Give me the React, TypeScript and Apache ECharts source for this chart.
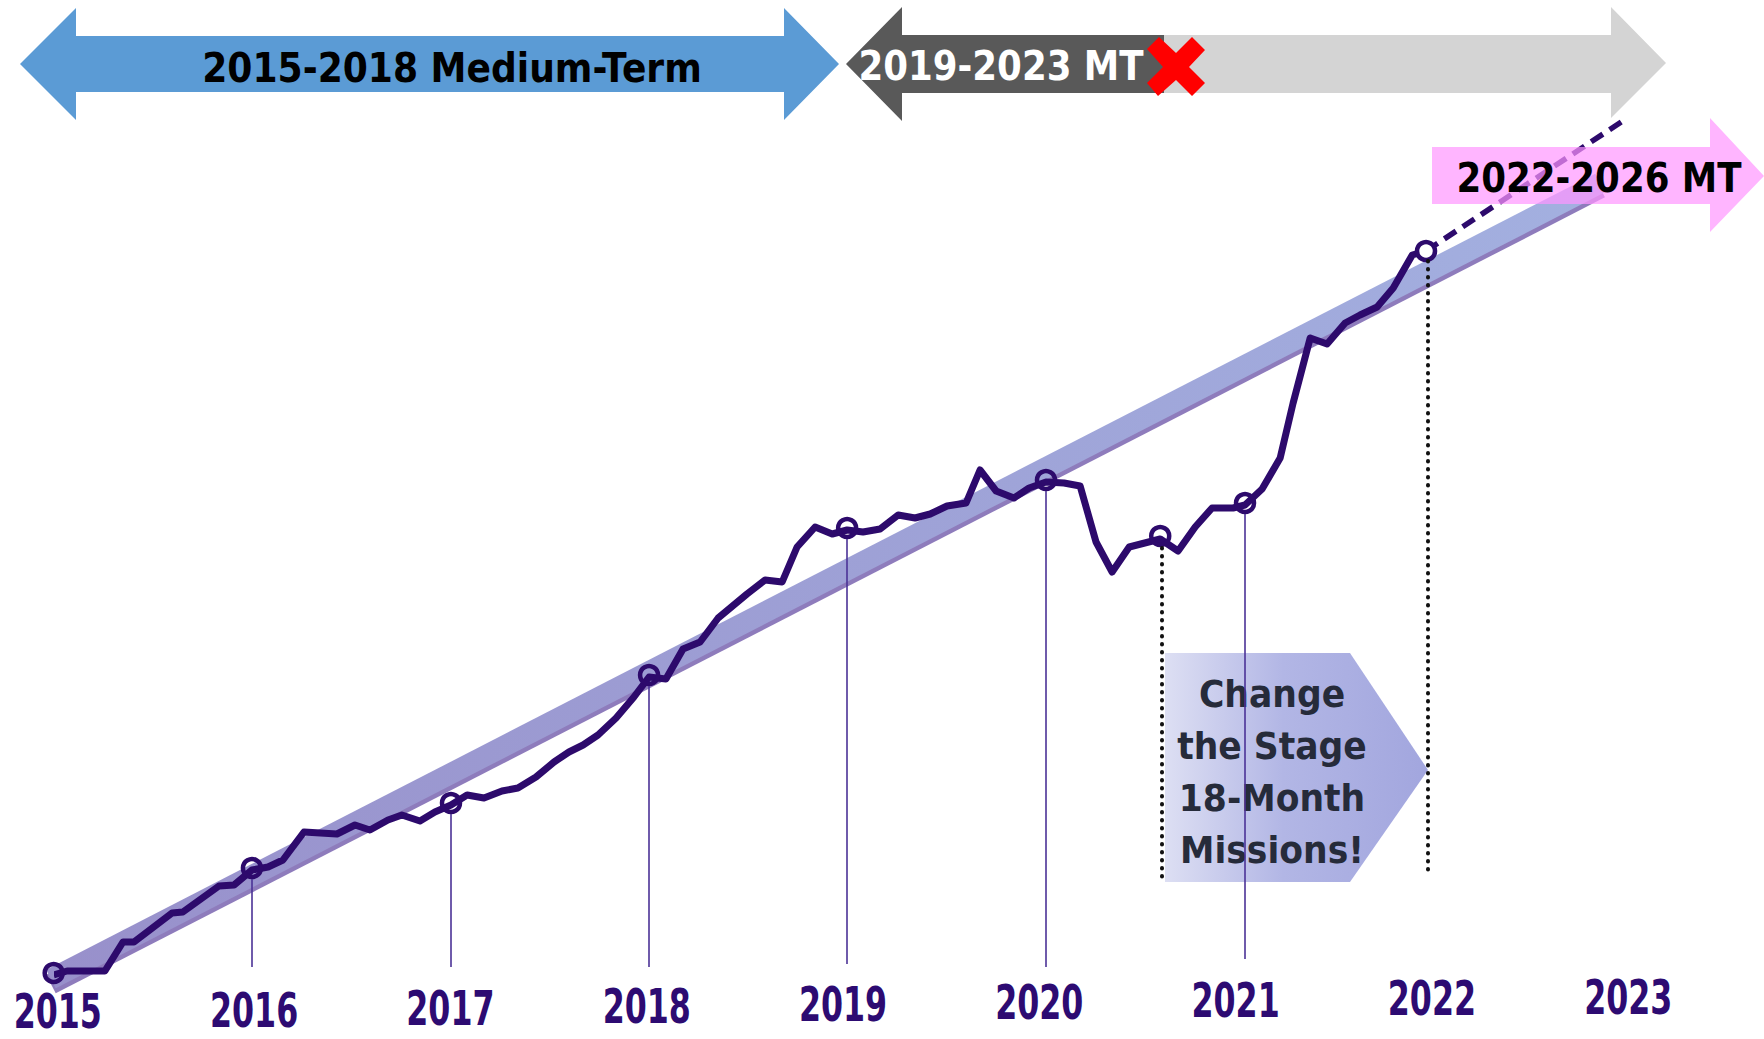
import React, { useEffect, useRef } from "react";
import * as echarts from "echarts";

// ---------- DATA ----------
const yearTicks = [2015, 2016, 2017, 2018, 2019, 2020, 2021, 2022, 2023];
const yearLabels = ["2015", "2016", "2017", "2018", "2019", "2020", "2021", "2022", "2023"];

// actual index path (decimal year, index value)
const mainX = [
  2014.979, 2015.047, 2015.24, 2015.332, 2015.388, 2015.582, 2015.637, 2015.821, 2015.898, 2015.989,
  2016.071, 2016.147, 2016.254, 2016.422, 2016.514, 2016.59, 2016.682, 2016.753, 2016.845, 2016.921,
  2017.003, 2017.085, 2017.171, 2017.263, 2017.344, 2017.436, 2017.528, 2017.604, 2017.676, 2017.752,
  2017.844, 2017.935, 2018.012, 2018.098, 2018.185, 2018.272, 2018.364, 2018.511, 2018.603, 2018.69,
  2018.766, 2018.858, 2018.945, 2019.021, 2019.102, 2019.189, 2019.281, 2019.367, 2019.444, 2019.53,
  2019.627, 2019.698, 2019.78, 2019.871, 2019.948, 2020.034, 2020.126, 2020.208, 2020.289, 2020.371,
  2020.458, 2020.616, 2020.707, 2020.794, 2020.88, 2020.987, 2021.048, 2021.135, 2021.227, 2021.293,
  2021.38, 2021.466, 2021.558, 2021.634, 2021.721, 2021.803, 2021.9, 2021.97,
];
const mainV = [
  100.0, 101.6, 101.6, 113.2, 113.2, 124.8, 125.2, 135.6, 136.0, 142.0,
  143.2, 146.0, 157.2, 156.4, 160.0, 158.0, 162.0, 164.0, 161.6, 165.2,
  168.0, 172.0, 170.8, 173.6, 174.8, 179.2, 185.2, 189.2, 192.0, 196.0,
  202.8, 211.2, 219.2, 218.4, 230.4, 233.2, 242.8, 252.4, 258.0, 257.2,
  271.2, 279.2, 276.4, 278.0, 277.2, 278.4, 284.0, 282.8, 284.4, 287.6,
  288.8, 302.0, 293.6, 290.8, 294.8, 297.2, 296.8, 295.6, 273.2, 261.2,
  271.2, 274.4, 269.6, 279.2, 286.8, 286.8, 288.0, 294.4, 306.8, 328.8,
  354.8, 352.4, 360.8, 364.0, 367.2, 374.8, 388.0, 389.6,
];

// long-term trend band
const bandX = [2014.965, 2022.857];
const bandV = [98.4, 416.8];

// forecast (dashed)
const forecastX = [2021.97, 2022.995];
const forecastV = [389.6, 442.8];

// milestone circles
const milestoneX = [2014.979, 2015.989, 2017.003, 2018.012, 2019.021, 2020.034, 2020.616, 2021.048, 2021.97];
const milestoneV = [100.8, 142.8, 168.8, 220.0, 278.8, 298.0, 275.6, 288.8, 389.6];

// thin vertical drop lines
const dropX = [2015.989, 2017.003, 2018.012, 2019.021, 2020.034, 2021.048];
const dropTop = [138.4, 164.4, 215.6, 274.4, 293.6, 284.4];
const dropBottom = [103.2, 103.2, 103.2, 104.4, 103.2, 106.4];

// dotted drop lines (18-month mission window)
const dottedX = [2020.625, 2021.979];
const dottedTop = [270.8, 385.6];
const dottedBottom = [139.2, 139.2];

const headerTexts = ["2015-2018 Medium-Term", "2019-2023 MT", "2022-2026 MT"];
const missionText = ["Change", "the Stage", "18-Month", "Missions!"];

export default function App() {
  const ref = useRef<HTMLDivElement>(null);

  useEffect(() => {
    if (!ref.current) return;
    const chart = echarts.init(ref.current, null, { renderer: "svg" });
    const PURPLE = "#2D0A6C";
    const FONT = "'DejaVu Sans', Verdana, sans-serif";

    const txt = (text: string, x: number, y: number, size: number, color: string, sx: number, z: number, extra: any = {}) => ({
      type: "text",
      x,
      y,
      scaleX: sx,
      z,
      silent: true,
      style: {
        text,
        fill: color,
        fontSize: size,
        fontWeight: "bold",
        fontFamily: FONT,
        textAlign: "center",
        textVerticalAlign: "middle",
        align: "center",
        verticalAlign: "middle",
        ...extra,
      },
    });

    const decor: any[] = [
      // blue double arrow
      {
        type: "polygon",
        z: 0,
        silent: true,
        shape: {
          points: [[20, 64], [76, 8], [76, 36], [784, 36], [784, 8], [839, 64], [784, 120], [784, 92], [76, 92], [76, 120]],
        },
        style: { fill: "#5B9BD5" },
      },
      // light gray part of the 2019-2023 arrow
      {
        type: "polygon",
        z: 0,
        silent: true,
        shape: {
          points: [[1160, 35], [1611, 35], [1611, 7], [1666, 63], [1611, 118], [1611, 93], [1160, 93]],
        },
        style: { fill: "#D4D4D4" },
      },
      // dark gray part
      {
        type: "polygon",
        z: 0,
        silent: true,
        shape: {
          points: [[846, 64], [902, 7], [902, 35], [1164, 35], [1164, 93], [902, 93], [902, 121]],
        },
        style: { fill: "#595959" },
      },
      txt(headerTexts[0], 452, 68, 41, "#000000", 0.88, 1),
      txt(headerTexts[1], 1001, 66, 40, "#FFFFFF", 0.89, 1),
      // red X
      {
        type: "polygon",
        z: 1,
        silent: true,
        shape: {
          points: [
            [1147, 49], [1159, 37], [1176, 53], [1192, 37], [1205, 50], [1189, 67],
            [1205, 83], [1192, 96], [1176, 80], [1158, 96], [1147, 83], [1163, 67],
          ],
        },
        style: { fill: "#FF0000" },
      },
      // mission pentagon
      {
        type: "polygon",
        z: 0,
        silent: true,
        shape: { points: [[1165, 653], [1350, 653], [1428, 770], [1350, 882], [1165, 882]] },
        style: {
          fill: new echarts.graphic.LinearGradient(0, 0, 1, 0, [
            { offset: 0, color: "#DDDFF3" },
            { offset: 0.45, color: "#B2B6E5" },
            { offset: 1, color: "#A2A6DE" },
          ]),
        },
      },
      txt(missionText.join("\n"), 1272, 772, 38, "#262B3A", 0.91, 1, { lineHeight: 52 }),
      // pink arrow (semi transparent, above series)
      {
        type: "polygon",
        z: 100,
        silent: true,
        shape: { points: [[1432, 147], [1710, 147], [1710, 118], [1764, 176], [1710, 232], [1710, 204], [1432, 204]] },
        style: { fill: "#FF96FF", opacity: 0.7 },
      },
      txt(headerTexts[2], 1599, 178, 40, "#000000", 0.89, 101),
    ];

    const option: any = {
      animation: false,
      backgroundColor: "#FFFFFF",
      grid: { left: 57.8, right: 135.8, top: 100, bottom: 64, containLabel: false },
      xAxis: { type: "value", min: 2015, max: 2023, interval: 1, show: false },
      yAxis: { type: "value", min: 100, max: 450, show: false },
      series: [
        {
          type: "line",
          name: "Trend",
          data: bandX.map((x, i) => [x, bandV[i]]),
          symbol: "none",
          clip: false,
          silent: true,
          z: 1,
          lineStyle: {
            width: 21,
            cap: "butt",
            color: new echarts.graphic.LinearGradient(0, 0, 1, 0, [
              { offset: 0, color: "#9890CB" },
              { offset: 1, color: "#A3B0E0" },
            ]),
            shadowColor: "#8E7CBC",
            shadowBlur: 0,
            shadowOffsetY: 5,
          },
        },
        {
          type: "line",
          name: "Actual",
          data: mainX.map((x, i) => [x, mainV[i]]),
          symbol: "none",
          clip: false,
          silent: true,
          z: 3,
          lineStyle: { width: 7, color: PURPLE, join: "round" },
          markLine: {
            silent: true,
            symbol: ["none", "none"],
            label: { show: false },
            lineStyle: { color: "#4B3296", width: 1.6, type: "solid" },
            data: dropX.map((x, i) => [{ coord: [x, dropTop[i]] }, { coord: [x, dropBottom[i]] }]),
          },
        },
        {
          type: "line",
          name: "Plan",
          data: forecastX.map((x, i) => [x, forecastV[i]]),
          symbol: "none",
          clip: false,
          silent: true,
          z: 3,
          lineStyle: { width: 5.5, color: PURPLE, type: [14, 8] },
          markLine: {
            silent: true,
            symbol: ["none", "none"],
            label: { show: false },
            lineStyle: { color: "#111111", width: 4, type: [0.5, 7.5], cap: "round" },
            data: dottedX.map((x, i) => [{ coord: [x, dottedTop[i]] }, { coord: [x, dottedBottom[i]] }]),
          },
        },
        {
          type: "scatter",
          name: "Milestones",
          data: milestoneX.map((x, i) => ({
            value: [x, milestoneV[i]],
            itemStyle: i === milestoneX.length - 1 ? { color: "#FFFFFF" } : undefined,
          })),
          symbol: "circle",
          symbolSize: 18,
          clip: false,
          silent: true,
          z: 4,
          itemStyle: { color: "rgba(255,255,255,0)", borderColor: PURPLE, borderWidth: 4.5, opacity: 1 },
        },
      ],
      graphic: { elements: decor },
    };

    chart.setOption(option);

    const labels = yearTicks.map((yr, i) => {
      const p = chart.convertToPixel({ gridIndex: 0 }, [yr, 100]) as number[];
      const px = p[0];
      const py = 1012 - (px - 54) * 0.0095;
      return txt(yearLabels[i], px, py, 48, "#2D0B72", 0.66, 5);
    });
    chart.setOption({ graphic: { elements: [...decor, ...labels] } });

    return () => chart.dispose();
  }, []);

  return (
    <div
      ref={ref}
      style={{ position: "fixed", left: 0, top: 0, width: "1764px", height: "1039px", background: "#FFFFFF" }}
    />
  );
}
